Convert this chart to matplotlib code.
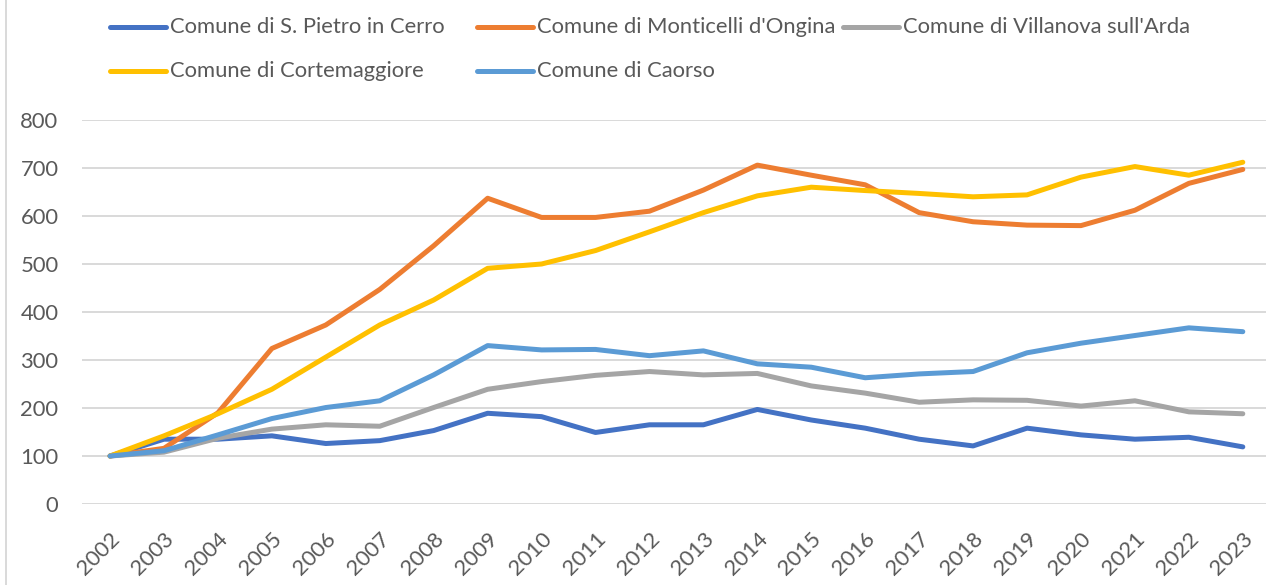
import matplotlib.pyplot as plt
from matplotlib.lines import Line2D
import numpy as np

# Data (index, 2002 = 100)
years = [str(y) for y in range(2002, 2024)]
s_pietro = [100, 135, 135, 142, 126, 132, 153, 189, 182, 149, 165, 165,
            197, 175, 158, 135, 121, 158, 144, 135, 139, 119]
monticelli = [100, 116, 190, 324, 373, 447, 538, 637, 597, 597, 610, 654,
              706, 685, 665, 607, 588, 581, 580, 612, 668, 697]
villanova = [100, 108, 137, 156, 165, 162, 201, 239, 255, 268, 276, 269,
             272, 246, 231, 212, 217, 216, 204, 215, 192, 188]
cortemaggiore = [100, 142, 188, 239, 306, 373, 425, 491, 500, 528, 567, 607,
                 642, 660, 653, 647, 640, 644, 681, 703, 685, 712]
caorso = [100, 111, 144, 178, 201, 215, 269, 330, 321, 322, 309, 319,
          292, 285, 263, 271, 276, 315, 335, 351, 367, 359]

labels = ["Comune di S. Pietro in Cerro", "Comune di Monticelli d'Ongina",
          "Comune di Villanova sull'Arda", "Comune di Cortemaggiore",
          "Comune di Caorso"]
series = [s_pietro, monticelli, villanova, cortemaggiore, caorso]
colors = ['#4472C4', '#ED7D31', '#A5A5A5', '#FFC000', '#5B9BD5']

text_color = '#595959'
grid_color = '#D9D9D9'
plt.rcParams['font.family'] = ['Lato', 'DejaVu Sans']
fs = 15.8

W, H = 1266, 585
fig = plt.figure(figsize=(W / 100, H / 100), dpi=100)
ax = fig.add_axes([82 / W, (H - 504) / H, (W - 82) / W, 384 / H])

x = np.arange(len(years))
for vals, col, lab in zip(series, colors, labels):
    ax.plot(x, vals, color=col, lw=3.6, solid_capstyle='round',
            solid_joinstyle='round', label=lab)

ax.set_ylim(0, 800)
ax.set_yticks(range(0, 801, 100))
ax.set_xlim(-0.52, 21.43)
ax.set_xticks(x)
ax.set_xticklabels(years, rotation=45, ha='right', va='top',
                   rotation_mode='anchor')
ax.tick_params(axis='both', length=0, labelsize=fs, labelcolor=text_color)
ax.tick_params(axis='y', pad=17)
ax.tick_params(axis='x', pad=18)
ax.grid(axis='y', color=grid_color, lw=1.4)
ax.set_axisbelow(True)
for sp in ax.spines.values():
    sp.set_visible(False)

# legend laid out like Excel: equal-width columns, row-major
col_x = [110, 477, 843]
row_y = [27, 71]
for i, (lab, col) in enumerate(zip(labels, colors)):
    r, c = divmod(i, 3)
    x0, y0 = col_x[c], row_y[r]
    fig.add_artist(Line2D([x0 / W, (x0 + 56) / W], [1 - y0 / H, 1 - y0 / H],
                          color=col, lw=3.6, solid_capstyle='round'))
    fig.text((x0 + 60) / W, 1 - y0 / H, lab, fontsize=fs, color=text_color,
             ha='left', va='center')

# chart area border (left edge visible)
fig.add_artist(Line2D([6 / W, 6 / W], [0, 1], color=grid_color, lw=1.4))

fig.savefig('out.png', dpi=100)
